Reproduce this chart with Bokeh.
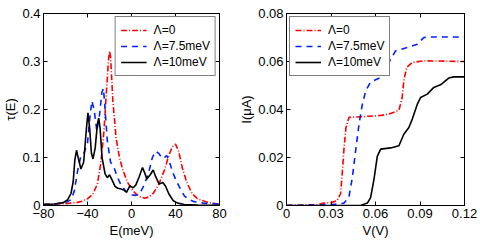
from bokeh.plotting import figure
from bokeh.layouts import row
from bokeh.models import Range1d, FixedTicker, LinearAxis, Legend, LegendItem, CustomJSTickFormatter
from bokeh.embed import file_html
from bokeh.resources import INLINE

# ---------------- data: left panel tau(E) ----------------
e_l0 = [-80, -70, -60, -50, -45, -40, -35, -31, -28, -25, -23, -21, -20, -19, -17, -14, -11, -8, -4, 0, 4, 8,
        12, 16, 20, 25, 30, 34, 37, 40, 43, 46, 50, 55, 60, 70, 80]
tau_l0 = [0.002, 0.003, 0.004, 0.006, 0.009, 0.014, 0.024, 0.045, 0.086, 0.156, 0.23, 0.30, 0.322, 0.31, 0.22,
          0.14, 0.10, 0.075, 0.05, 0.035, 0.024, 0.018, 0.015, 0.018, 0.026, 0.045, 0.074, 0.105, 0.122, 0.128,
          0.112, 0.08, 0.05, 0.025, 0.014, 0.006, 0.003]

e_l75 = [-80, -70, -60, -55, -52, -49, -46, -43, -40, -38, -36, -34, -31.5, -29, -27, -25.5, -24, -22, -19, -16,
         -13, -10, -5, 0, 4, 8, 12, 16, 19, 22, 25, 28, 30, 32, 34, 37, 40, 43, 48, 52, 57, 65, 80]
tau_l75 = [0.002, 0.003, 0.006, 0.012, 0.03, 0.072, 0.104, 0.11, 0.13, 0.18, 0.218, 0.2, 0.155, 0.19, 0.235, 0.244,
           0.2, 0.135, 0.09, 0.08, 0.06, 0.045, 0.029, 0.022, 0.021, 0.027, 0.045, 0.072, 0.1, 0.113, 0.108, 0.098,
           0.1, 0.104, 0.095, 0.072, 0.055, 0.041, 0.02, 0.013, 0.008, 0.005, 0.003]

e_l10 = [-80, -70, -62, -58, -55, -53, -51.5, -50, -48.5, -46, -43.5, -41, -39.6, -38, -36.5, -35, -33, -31, -29.8,
         -28.5, -26.8, -24, -22, -20, -18, -15, -12.5, -10, -7, -4.5, -1.5, 1.5, 4, 7, 10, 12, 14, 17, 19.7, 22, 25,
         28.5, 31, 34, 38, 42, 48, 60, 80]
tau_l10 = [0.002, 0.003, 0.006, 0.012, 0.025, 0.05, 0.095, 0.115, 0.1, 0.076, 0.09, 0.16, 0.193, 0.16, 0.11, 0.097,
           0.12, 0.17, 0.182, 0.16, 0.1, 0.066, 0.058, 0.064, 0.055, 0.04, 0.036, 0.035, 0.032, 0.028, 0.041, 0.037,
           0.043, 0.06, 0.079, 0.068, 0.055, 0.064, 0.074, 0.06, 0.045, 0.048, 0.04, 0.024, 0.01, 0.005, 0.002,
           0.001, 0.0005]

# ---------------- data: right panel I(V) ----------------
v_l0 = [0, 0.02, 0.025, 0.03, 0.034, 0.0365, 0.0377, 0.0388, 0.0401, 0.0421, 0.05, 0.0635, 0.0702, 0.0758, 0.078,
        0.0791, 0.081, 0.0848, 0.0926, 0.12]
i_l0 = [0, 0.0003, 0.001, 0.0012, 0.002, 0.005, 0.0145, 0.024, 0.0325, 0.0367, 0.037, 0.0375, 0.0383, 0.0397,
        0.045, 0.052, 0.0575, 0.0596, 0.0603, 0.06]

v_l75 = [0, 0.03, 0.0388, 0.042, 0.0444, 0.0466, 0.0489, 0.0511, 0.0534, 0.0567, 0.0635, 0.069, 0.0736, 0.0814,
         0.0882, 0.0926, 0.097, 0.12]
i_l75 = [0, 0.0003, 0.001, 0.0033, 0.0117, 0.0228, 0.034, 0.042, 0.0478, 0.0515, 0.0533, 0.0596, 0.0645, 0.0658,
         0.0672, 0.07, 0.0702, 0.0702]

v_l10 = [0, 0.05, 0.0545, 0.0567, 0.059, 0.0612, 0.0635, 0.0702, 0.0758, 0.0791, 0.0825, 0.0848, 0.0882, 0.0904,
         0.0949, 0.0993, 0.1038, 0.1094, 0.1128, 0.12]
i_l10 = [0, 0, 0.001, 0.0033, 0.011, 0.0205, 0.0235, 0.024, 0.0249, 0.0297, 0.0325, 0.036, 0.0422, 0.045, 0.0464,
         0.0492, 0.0503, 0.0531, 0.0536, 0.0536]

series_labels = ["\u039b=0", "\u039b=7.5meV", "\u039b=10meV"]

left_xticks = [-80, -40, 0, 40, 80]
left_xlabels = ["\u221280", "\u221240", "0", "40", "80"]
left_yticks = [0, 0.1, 0.2, 0.3, 0.4]
left_ylabels = ["0", "0.1", "0.2", "0.3", "0.4"]
right_xticks = [0, 0.03, 0.06, 0.09, 0.12]
right_xlabels = ["0", "0.03", "0.06", "0.09", "0.12"]
right_yticks = [0, 0.02, 0.04, 0.06, 0.08]
right_ylabels = ["0", "0.02", "0.04", "0.06", "0.08"]

FONT = "Liberation Sans"
FS = "13px"
LFS = "12px"
COLORS = ["#ff0000", "#0022ff", "#000000"]
DASHES = ["6 2 1 2", "6 5", "solid"]
LW = 1.6


def fmt(tvals, tlabs):
    return CustomJSTickFormatter(args=dict(tvals=tvals, tlabs=tlabs), code="""
        for (let i = 0; i < tvals.length; i++) {
            if (Math.abs(tvals[i] - tick) < 1e-9) return tlabs[i];
        }
        return "";
    """)


def style_axis(ax, tvals, tlabs, show):
    ax.ticker = FixedTicker(ticks=tvals)
    ax.major_tick_in = 4
    ax.major_tick_out = 0
    ax.minor_tick_line_color = None
    ax.axis_line_color = "black"
    ax.major_tick_line_color = "black"
    ax.major_label_text_font = FONT
    ax.major_label_text_color = "black"
    ax.axis_label_text_font = FONT
    ax.axis_label_text_font_style = "normal"
    ax.axis_label_text_font_size = FS
    ax.axis_label_text_color = "black"
    ax.axis_label_standoff = 1
    if show:
        ax.formatter = fmt(tvals, tlabs)
        ax.major_label_text_font_size = FS
        ax.major_label_standoff = 3
    else:
        ax.formatter = fmt([], [])
        ax.major_label_text_font_size = "1px"
        ax.major_label_standoff = 0


def make(width, xr, yr, xt, xl, yt, yl, xlabel, ylabel, data, legend_loc, border_left, border_right):
    p = figure(width=width, height=240, output_backend="svg", toolbar_location=None,
               x_range=Range1d(*xr), y_range=Range1d(*yr),
               min_border_left=border_left, min_border_right=border_right,
               min_border_top=13, min_border_bottom=35)
    p.xgrid.visible = False
    p.ygrid.visible = False
    p.outline_line_color = "black"
    p.background_fill_color = "white"
    p.border_fill_color = "white"
    style_axis(p.xaxis[0], xt, xl, True)
    style_axis(p.yaxis[0], yt, yl, True)
    p.xaxis[0].axis_label = xlabel
    p.xaxis[0].axis_label_standoff = 2
    p.yaxis[0].axis_label = ylabel
    top = LinearAxis()
    rgt = LinearAxis()
    style_axis(top, xt, xl, False)
    style_axis(rgt, yt, yl, False)
    p.add_layout(top, "above")
    p.add_layout(rgt, "right")
    items = []
    for (xs, ys), c, d, lab in zip(data, COLORS, DASHES, series_labels):
        r = p.line(xs, ys, line_color=c, line_dash=d, line_width=LW)
        items.append(LegendItem(label=lab, renderers=[r]))
    leg = Legend(items=items, location=legend_loc)
    leg.label_text_font = FONT
    leg.label_text_font_size = LFS
    leg.label_text_color = "black"
    leg.label_height = 16
    leg.glyph_height = 16
    leg.glyph_width = 26
    leg.label_standoff = 7
    leg.spacing = 0
    leg.padding = 5
    leg.margin = 3
    leg.border_line_color = "black"
    leg.border_line_width = 1
    leg.background_fill_alpha = 1
    p.add_layout(leg)
    return p


p1 = make(236, (-80, 80), (0, 0.4), left_xticks, left_xlabels, left_yticks, left_ylabels,
          "E(meV)", "\u03c4(E)",
          [(e_l0, tau_l0), (e_l75, tau_l75), (e_l10, tau_l10)], "top_right", 39, 17)
p2 = make(244, (0, 0.12), (0, 0.08), right_xticks, right_xlabels, right_yticks, right_ylabels,
          "V(V)", "I(\u03bcA)",
          [(v_l0, i_l0), (v_l75, i_l75), (v_l10, i_l10)], "top_left", 50, 16)

layout = row(p1, p2)
open("out.html", "w").write(file_html(layout, INLINE))
